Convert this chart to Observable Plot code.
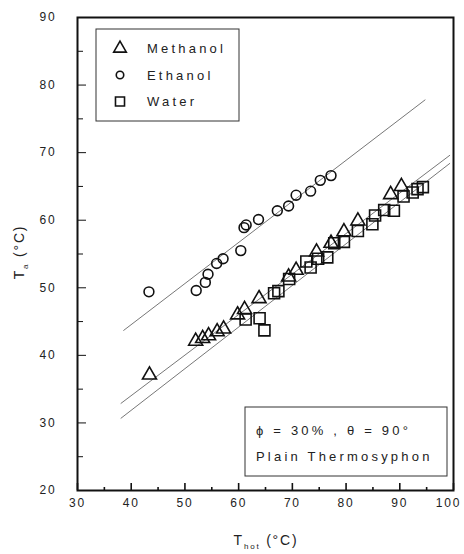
<!DOCTYPE html>
<html>
<head>
<meta charset="utf-8">
<script src="https://cdn.jsdelivr.net/npm/d3@7"></script>
<script src="https://cdn.jsdelivr.net/npm/@observablehq/plot@0.6"></script>
<style>
  html, body { margin: 0; padding: 0; background: #fff; }
  #chart svg { display: block; font-family: "Liberation Sans", Arial, sans-serif; }
  #chart svg text { letter-spacing: 1.8px; }
  #chart svg text.wide { letter-spacing: 3.2px; }
</style>
</head>
<body>
<div id="chart"></div>
<script>
// ---- Data ----
const methanolX = [43.4, 52.0, 53.3, 54.4, 56.0, 57.2, 59.8, 61.1, 63.8, 69.3, 70.7, 74.5, 77.2, 79.6, 82.2, 88.3, 90.3];
const methanolY = [37.1, 42.1, 42.5, 42.9, 43.5, 43.9, 46.0, 46.8, 48.4, 51.6, 52.6, 55.3, 56.6, 58.3, 59.9, 63.8, 65.0];

const ethanolX = [43.3, 52.1, 53.8, 54.3, 55.9, 57.1, 60.4, 61.0, 61.4, 63.7, 67.2, 69.3, 70.7, 73.4, 75.2, 77.2];
const ethanolY = [49.4, 49.6, 50.8, 52.0, 53.6, 54.3, 55.5, 58.9, 59.3, 60.1, 61.4, 62.1, 63.7, 64.3, 65.9, 66.6];

const waterX = [61.3, 63.9, 64.8, 66.6, 67.4, 69.4, 72.6, 73.4, 74.8, 76.5, 77.8, 79.6, 82.2, 84.9, 85.4, 87.1, 88.9, 90.7, 92.4, 93.3, 94.3];
const waterY = [45.3, 45.5, 43.7, 49.2, 49.5, 51.3, 53.9, 53.0, 54.3, 54.5, 56.6, 56.8, 58.4, 59.4, 60.7, 61.5, 61.4, 63.5, 64.1, 64.6, 64.9];

// fitted lines (end points)
const methanolFitX = [38.1, 99.3];
const methanolFitY = [32.9, 69.6];
const ethanolFitX  = [38.6, 94.7];
const ethanolFitY  = [43.7, 77.8];
const waterFitX    = [38.1, 99.3];
const waterFitY    = [30.7, 68.4];

const xMajor = [30, 40, 50, 60, 70, 80, 90, 100];
const xMinor = [35, 45, 55, 65, 75, 85, 95];
const yMajor = [20, 30, 40, 50, 60, 70, 80, 90];
const yMinor = [25, 35, 45, 55, 65, 75, 85];

const seriesNames = ["Methanol", "Ethanol", "Water"];
const seriesSymbols = ["triangle", "circle", "square"];
const noteLines = ["\u03d5 = 30% , \u03b8 = 90\u00b0", "Plain Thermosyphon"];

// ---- Build tables ----
const zip = (xs, ys, s) => xs.map((x, i) => ({x, y: ys[i], s}));
const methanol = zip(methanolX, methanolY, "Methanol");
const ethanol = zip(ethanolX, ethanolY, "Ethanol");
const water = zip(waterX, waterY, "Water");
const fits = [
  ...zip(methanolFitX, methanolFitY, "Methanol"),
  ...zip(ethanolFitX, ethanolFitY, "Ethanol"),
  ...zip(waterFitX, waterFitY, "Water")
];

const W = 464, H = 554, mL = 77, mR = 11, mT = 17, mB = 64;
const frameW = W - mL - mR, frameH = H - mT - mB;
const ink = "#111";
const xLabelsInner = xMajor.slice(0, -1);
const xLabelLast = xMajor.slice(-1);
const chart = Plot.plot({
  width: W,
  height: H,
  marginLeft: mL,
  marginRight: mR,
  marginTop: mT,
  marginBottom: mB,
  x: {domain: [30, 100], label: null},
  y: {domain: [20, 90], label: null},
  style: {fontSize: "12px", color: ink, background: "#fff"},
  marks: [
    Plot.line(fits, {x: "x", y: "y", z: "s", stroke: "#777", strokeWidth: 1}),
    Plot.dot(ethanol, {x: "x", y: "y", symbol: "circle", r: 4.9, stroke: ink, strokeWidth: 1.6, fill: "none"}),
    Plot.dot(water, {x: "x", y: "y", symbol: "square", r: 6.2, stroke: ink, strokeWidth: 1.6, fill: "none"}),
    Plot.dot(methanol, {x: "x", y: "y", symbol: "triangle", r: 5.2, stroke: ink, strokeWidth: 1.6, fill: "none"}),
    // inward ticks
    Plot.ruleX(xMinor, {x: d => d, insetTop: frameH - 3, stroke: ink, strokeWidth: 1.6}),
    Plot.ruleX(xMajor, {x: d => d, insetTop: frameH - 7, stroke: ink, strokeWidth: 1.6}),
    Plot.ruleY(yMinor, {y: d => d, insetRight: frameW - 6, stroke: ink, strokeWidth: 1}),
    Plot.ruleY(yMajor, {y: d => d, insetRight: frameW - 9, stroke: ink, strokeWidth: 1}),
    // tick labels
    Plot.axisX({ticks: xLabelsInner, tickSize: 0, tickPadding: 8, tickFormat: d3.format("d"), fill: "#222"}),
    Plot.axisX({ticks: xLabelLast, tickSize: 0, tickPadding: 8, dx: -5, tickFormat: d3.format("d"), fill: "#222"}),
    Plot.axisY({ticks: yMajor, tickSize: 0, tickPadding: 21, tickFormat: d3.format("d"), fill: "#222"}),
    Plot.frame({stroke: ink, strokeWidth: 2})
  ]
});
document.getElementById("chart").appendChild(chart);

// ---- Legend, note box and axis titles ----
const svg = d3.select(chart);
const lg = svg.append("g").attr("transform", "translate(96,29)");
lg.append("rect").attr("width", 143).attr("height", 92).attr("fill", "#fff").attr("stroke", "#333").attr("stroke-width", 1);
seriesNames.forEach((name, i) => {
  const cy = 19.5 + i * 26.5;
  const sym = {triangle: d3.symbolTriangle, circle: d3.symbolCircle, square: d3.symbolSquare}[seriesSymbols[i]];
  const size = {triangle: Math.PI * 22, circle: Math.PI * 14, square: Math.PI * 26}[seriesSymbols[i]];
  lg.append("path").attr("d", d3.symbol(sym, size)()).attr("transform", `translate(24,${cy})`)
    .attr("fill", "none").attr("stroke", ink).attr("stroke-width", 1.6);
  lg.append("text").attr("class", "wide").attr("x", 51).attr("y", cy + 4.5).attr("text-anchor", "start")
    .attr("font-size", 13).attr("fill", "#222").text(name);
});

const nb = svg.append("g").attr("transform", "translate(245,407)");
nb.append("rect").attr("width", 202).attr("height", 69).attr("fill", "#fff").attr("stroke", "#333").attr("stroke-width", 1);
noteLines.forEach((t, i) => {
  nb.append("text").attr("class", "wide").attr("x", 11).attr("y", 28 + i * 26).attr("text-anchor", "start")
    .attr("font-size", 13).attr("fill", "#222").text(t);
});

// x title: T_hot (°C)
const xt = svg.append("text").attr("x", 266).attr("y", 545).attr("text-anchor", "middle").attr("font-size", 14).attr("fill", "#222");
xt.append("tspan").text("T");
xt.append("tspan").attr("font-size", 8).attr("dy", 4).text("hot");
xt.append("tspan").attr("dy", -4).text(" (\u00b0C)");

// y title: T_a (°C)
const yt = svg.append("text").attr("transform", "translate(24,252) rotate(-90)").attr("text-anchor", "middle").attr("font-size", 14).attr("fill", "#222");
yt.append("tspan").text("T");
yt.append("tspan").attr("font-size", 8).attr("dy", 4).text("a");
yt.append("tspan").attr("dy", -4).text(" (\u00b0C)");
</script>
</body>
</html>
